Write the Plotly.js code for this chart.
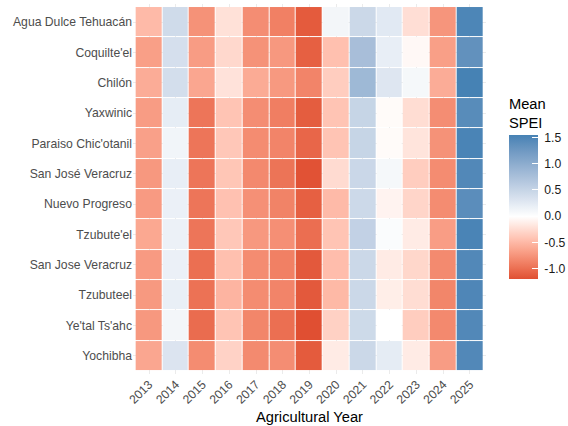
<!DOCTYPE html>
<html>
<head>
<meta charset="utf-8">
<script src="https://cdn.plot.ly/plotly-3.0.1.min.js"></script>
<style>
  html, body { margin: 0; padding: 0; background: #ffffff; }
  #chart { width: 568px; height: 426px; }
</style>
</head>
<body>
<div id="chart"></div>
<script>
// Agricultural years (columns) and communities (rows, top to bottom)
const years = ["2013","2014","2015","2016","2017","2018","2019","2020","2021","2022","2023","2024","2025"];
const sites = ["Agua Dulce Tehuacán","Coquilte'el","Chilón","Yaxwinic","Paraiso Chic'otanil",
               "San José Veracruz","Nuevo Progreso","Tzubute'el","San Jose Veracruz","Tzubuteel",
               "Ye'tal Ts'ahc","Yochibha"];

// Mean SPEI per community, one value per agricultural year (2013 … 2025)
const aguaDulceTehuacan = [-0.48, 0.42, -0.76, -0.21, -0.79, -0.88, -1.12, 0.11, 0.46, 0.26, -0.23, -0.74, 1.50];
const coquilteel        = [-0.67, 0.37, -0.69, -0.27, -0.76, -0.72, -1.09, -0.44, 0.77, 0.20, -0.05, -0.67, 1.35];
const chilon            = [-0.58, 0.39, -0.62, -0.20, -0.59, -0.71, -0.85, -0.35, 0.85, 0.29, 0.09, -0.58, 1.55];
const yaxwinic          = [-0.69, 0.22, -0.95, -0.41, -0.79, -0.89, -1.11, -0.41, 0.50, -0.03, -0.24, -0.79, 1.42];
const paraisoChicotanil = [-0.66, 0.12, -0.95, -0.39, -0.80, -0.85, -1.05, -0.41, 0.50, -0.03, -0.19, -0.76, 1.52];
const sanJoseVeracruzA  = [-0.72, 0.20, -0.95, -0.40, -0.82, -0.96, -1.17, -0.25, 0.47, 0.09, -0.35, -0.80, 1.47];
const nuevoProgreso     = [-0.70, 0.18, -0.95, -0.43, -0.77, -0.86, -1.09, -0.48, 0.45, -0.08, -0.29, -0.80, 1.40];
const tzubuteel1        = [-0.61, 0.17, -0.95, -0.39, -0.72, -0.78, -1.00, -0.41, 0.54, 0.04, -0.14, -0.68, 1.52];
const sanJoseVeracruzB  = [-0.70, 0.18, -0.99, -0.44, -0.80, -0.88, -1.13, -0.46, 0.46, -0.14, -0.28, -0.81, 1.47];
const tzubuteel2        = [-0.71, 0.19, -0.97, -0.52, -0.80, -0.85, -1.13, -0.49, 0.46, -0.12, -0.24, -0.84, 1.49];
const yetalTsahc        = [-0.72, 0.11, -1.01, -0.41, -0.84, -0.99, -1.19, -0.32, 0.44, 0.00, -0.35, -0.82, 1.47];
const yochibha          = [-0.62, 0.31, -0.80, -0.31, -0.81, -0.79, -1.12, -0.14, 0.46, 0.23, -0.14, -0.69, 1.47];

// Colour-bar ticks
const cbTickVals = [-1.0, -0.5, 0.0, 0.5, 1.0, 1.5];
const cbTickText = ["-1.0", "-0.5", "0.0", "0.5", "1.0", "1.5"];

const z = [aguaDulceTehuacan, coquilteel, chilon, yaxwinic, paraisoChicotanil, sanJoseVeracruzA,
           nuevoProgreso, tzubuteel1, sanJoseVeracruzB, tzubuteel2, yetalTsahc, yochibha];

// ---- diverging scale: low red -> white at 0 -> steel blue, interpolated in CIE Lab ----
function hexToRgb(h) { return [1,3,5].map(i => parseInt(h.slice(i, i + 2), 16)); }
function toLin(c) { c /= 255; return c <= 0.04045 ? c / 12.92 : Math.pow((c + 0.055) / 1.055, 2.4); }
function fromLin(c) { const v = c <= 0.0031308 ? 12.92 * c : 1.055 * Math.pow(c, 1 / 2.4) - 0.055; return Math.round(Math.min(1, Math.max(0, v)) * 255); }
const WX = 0.95047, WY = 1.0, WZ = 1.08883;
function labF(t) { return t > 0.008856 ? Math.cbrt(t) : 7.787 * t + 16 / 116; }
function labFi(t) { return t > 0.206893 ? t * t * t : (t - 16 / 116) / 7.787; }
function rgbToLab(rgb) {
  const [r, g, b] = rgb.map(toLin);
  const X = 0.4124 * r + 0.3576 * g + 0.1805 * b;
  const Y = 0.2126 * r + 0.7152 * g + 0.0722 * b;
  const Z = 0.0193 * r + 0.1192 * g + 0.9505 * b;
  const fx = labF(X / WX), fy = labF(Y / WY), fz = labF(Z / WZ);
  return [116 * fy - 16, 500 * (fx - fy), 200 * (fy - fz)];
}
function labToRgb(lab) {
  const fy = (lab[0] + 16) / 116, fx = fy + lab[1] / 500, fz = fy - lab[2] / 200;
  const X = WX * labFi(fx), Y = WY * labFi(fy), Z = WZ * labFi(fz);
  const r = 3.2406 * X - 1.5372 * Y - 0.4986 * Z;
  const g = -0.9689 * X + 1.8758 * Y + 0.0415 * Z;
  const b = 0.0557 * X - 0.2040 * Y + 1.0570 * Z;
  return "rgb(" + [r, g, b].map(fromLin).join(",") + ")";
}
function mixLab(a, b, f) { return [0,1,2].map(i => a[i] + (b[i] - a[i]) * f); }

const flat = z.flat();
const zmin = Math.min(...flat), zmax = Math.max(...flat);
const labWhite = rgbToLab([255, 255, 255]);
const labRed = rgbToLab(hexToRgb("#E04F32"));   // colour reached at the lowest value
const labBlue = rgbToLab(hexToRgb("#4682B4"));  // colour reached at the highest value
const colorscale = [];
const N = 16;
for (let i = 0; i <= N; i++) {            // red half: zmin -> 0
  const v = zmin + (0 - zmin) * i / N;
  colorscale.push([(v - zmin) / (zmax - zmin), labToRgb(mixLab(labRed, labWhite, i / N))]);
}
for (let i = 1; i <= N; i++) {            // blue half: 0 -> zmax
  const v = zmax * i / N;
  colorscale.push([(v - zmin) / (zmax - zmin), labToRgb(mixLab(labWhite, labBlue, i / N))]);
}
colorscale[colorscale.length - 1][0] = 1;

const trace = {
  type: "heatmap",
  x: years,
  y: sites,
  z: z,
  zmin: zmin,
  zmax: zmax,
  colorscale: colorscale,
  xgap: 1,
  ygap: 1,
  hoverongaps: false,
  colorbar: {
    title: { text: "Mean<br>SPEI", side: "top", font: { family: "Liberation Sans, Arial, sans-serif", size: 14.7, color: "#000000" } },
    thickness: 29, thicknessmode: "pixels",
    len: 184, lenmode: "pixels",
    x: 1.065, xanchor: "left", xpad: 0,
    y: 0.258, yanchor: "bottom", ypad: 0,
    outlinewidth: 0,
    ticks: "inside", ticklen: 6, tickwidth: 1, tickcolor: "#ffffff",
    tickvals: cbTickVals,
    ticktext: cbTickText.map(s => "\u00a0" + s),   // small gap between bar and labels
    tickfont: { family: "Liberation Sans, Arial, sans-serif", size: 12.2, color: "#1a1a1a" }
  }
};

const layout = {
  width: 568,
  height: 426,
  margin: { l: 133, r: 82, t: 4, b: 52, autoexpand: false },
  paper_bgcolor: "#ffffff",
  plot_bgcolor: "#ffffff",
  font: { family: "Liberation Sans, Arial, sans-serif" },
  xaxis: {
    type: "category",
    range: [-0.6, 12.6],
    showgrid: true, gridcolor: "#EBEBEB", gridwidth: 1,
    zeroline: false, showline: false, ticks: "",
    tickangle: -45,
    tickfont: { size: 12.2, color: "#4D4D4D" },
    title: { text: "Agricultural Year", font: { size: 14.7, color: "#000000" }, standoff: 5 },
    automargin: false
  },
  yaxis: {
    type: "category",
    range: [11.6, -0.6],
    showgrid: true, gridcolor: "#EBEBEB", gridwidth: 1,
    zeroline: false, showline: false, ticks: "",
    tickfont: { size: 12.2, color: "#4D4D4D" },
    automargin: false
  }
};

Plotly.newPlot("chart", [trace], layout, { staticPlot: true, displayModeBar: false });
</script>
</body>
</html>
